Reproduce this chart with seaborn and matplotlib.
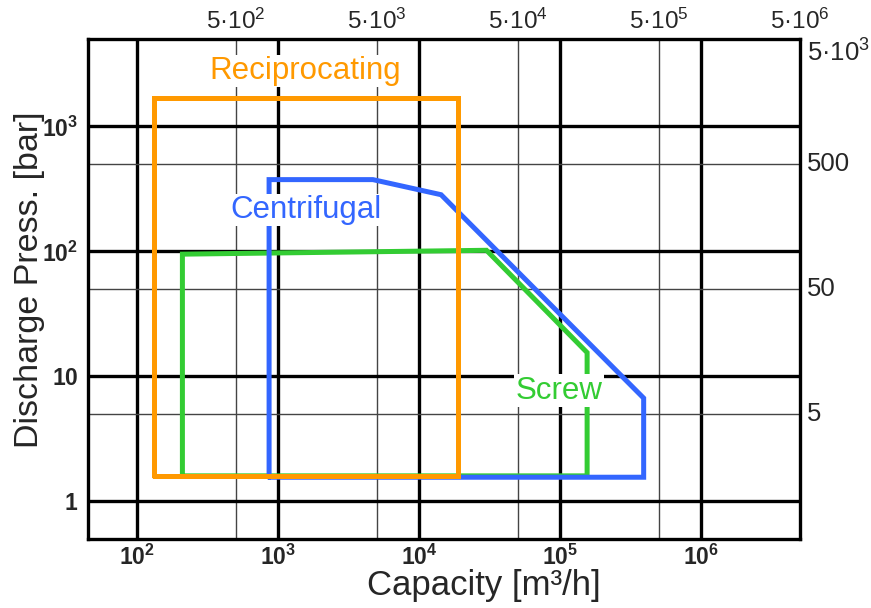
import pandas as pd
import numpy as np
import seaborn as sns
import matplotlib.pyplot as plt
import matplotlib.transforms as mtransforms

# Einsatzbereiche der Verdichter (Kapazitaet m3/h vs. Enddruck bar)
recip_x = [132, 132, 1.9e4, 1.9e4, 132]
recip_y = [1.6, 1700, 1700, 1.6, 1.6]

centri_x = [864, 864, 4.7e3, 1.43e4, 3.9e5, 3.9e5, 864]
centri_y = [1.56, 375, 375, 284, 6.7, 1.56, 1.56]

screw_x = [210, 210, 3.0e4, 1.55e5, 1.55e5, 210]
screw_y = [1.6, 95, 102, 15.5, 1.6, 1.6]

typen = ['Screw', 'Centrifugal', 'Reciprocating']
farben = {'Reciprocating': '#FF9900', 'Centrifugal': '#3366FF', 'Screw': '#33CC33'}

x_ticks = [1e2, 1e3, 1e4, 1e5, 1e6]
x_labels = [r'$\mathbf{10^{2}}$', r'$\mathbf{10^{3}}$', r'$\mathbf{10^{4}}$',
            r'$\mathbf{10^{5}}$', r'$\mathbf{10^{6}}$']
y_ticks = [1, 10, 100, 1000]
y_labels = [r'$\mathbf{1}$', r'$\mathbf{10}$', r'$\mathbf{10^{2}}$', r'$\mathbf{10^{3}}$']
x_minor = [5e2, 5e3, 5e4, 5e5]
y_minor = [5, 50, 500]
top_ticks = [5e2, 5e3, 5e4, 5e5, 5e6]
top_labels = [r'$5·10^{2}$', r'$5·10^{3}$', r'$5·10^{4}$', r'$5·10^{5}$', r'$5·10^{6}$']
right_ticks = [5, 50, 500, 5000]
right_labels = ['5', '50', '500', r'$5·10^{3}$']

# Beschriftungen im Diagramm (Position in Datenkoordinaten)
label_pos = {'Reciprocating': (1550, 2770), 'Centrifugal': (1575, 215), 'Screw': (9.8e4, 7.7)}

df = pd.concat([
    pd.DataFrame({'capacity': screw_x, 'pressure': screw_y, 'typ': 'Screw'}),
    pd.DataFrame({'capacity': centri_x, 'pressure': centri_y, 'typ': 'Centrifugal'}),
    pd.DataFrame({'capacity': recip_x, 'pressure': recip_y, 'typ': 'Reciprocating'}),
], ignore_index=True)

sns.set_theme(style='white')
plt.rcParams['font.family'] = ['Liberation Sans', 'DejaVu Sans']
plt.rcParams['mathtext.fontset'] = 'custom'
plt.rcParams['mathtext.rm'] = 'Liberation Sans'
plt.rcParams['mathtext.it'] = 'Liberation Sans'
plt.rcParams['mathtext.bf'] = 'Liberation Sans:bold'

fig = plt.figure(figsize=(8.71, 6.08), dpi=100)
ax = fig.add_axes([88 / 871, 69 / 608, 712 / 871, 500 / 608])

sns.lineplot(data=df, x='capacity', y='pressure', hue='typ', hue_order=typen,
             palette=farben, sort=False, estimator=None, linewidth=3.6,
             legend=False, ax=ax, solid_joinstyle='miter', zorder=3)

ax.set_xscale('log')
ax.set_yscale('log')
ax.set_xlim(45, 5e6)
ax.set_ylim(0.5, 5000)

ax.set_xticks(x_ticks)
ax.set_xticklabels(x_labels, fontsize=16.5)
ax.set_yticks(y_ticks)
ax.set_yticklabels(y_labels, fontsize=16.5)
ax.set_xticks(x_minor, minor=True)
ax.set_yticks(y_minor, minor=True)
ax.tick_params(which='both', length=0)
ax.tick_params(axis='x', pad=4)
ax.tick_params(axis='y', pad=7)
ax.grid(which='major', color='black', linewidth=2.4)
ax.grid(which='minor', color='#444444', linewidth=1.0)
ax.set_axisbelow(True)
for s in ax.spines.values():
    s.set_color('black')
    s.set_linewidth(2.4)
ax.set_xlabel('')
ax.set_ylabel('')

# obere und rechte Zusatzskala
tr_top = mtransforms.blended_transform_factory(ax.transData, ax.transAxes)
for v, t in zip(top_ticks, top_labels):
    ax.text(v, 1.036, t, transform=tr_top, ha='center', va='center', fontsize=17.5)
tr_right = mtransforms.blended_transform_factory(ax.transAxes, ax.transData)
for v, t in zip(right_ticks, right_labels):
    ax.text(1.01, v, t, transform=tr_right, ha='left',
            va='top' if v == 5000 else 'center', fontsize=18.5)

for name, (px, py) in label_pos.items():
    ax.text(px, py, name, color=farben[name], fontsize=22.5, ha='center', va='center',
            zorder=4, bbox=dict(facecolor='white', edgecolor='none', pad=1))

fig.text(484 / 871, 1 - 586 / 608, 'Capacity [m³/h]', ha='center', va='center', fontsize=25)
fig.text(30 / 871, 1 - 280 / 608, 'Discharge Press. [bar]', ha='center', va='center',
         rotation=90, fontsize=24.5)

plt.savefig('out.png', dpi=100)
